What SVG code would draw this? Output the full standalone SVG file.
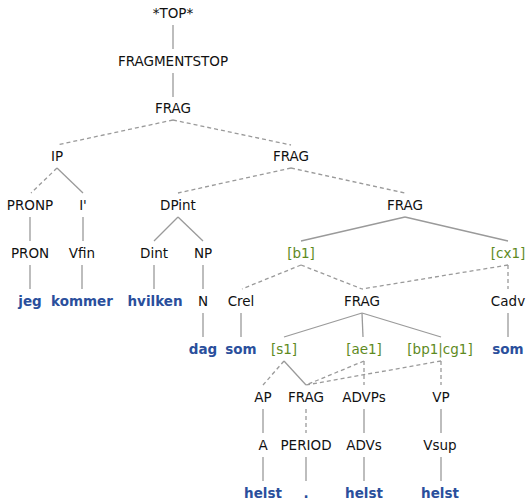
<svg xmlns="http://www.w3.org/2000/svg" width="526" height="502" viewBox="0 0 526 502">
<style>
text{font-family:"DejaVu Sans","Liberation Sans",sans-serif;font-size:13.5px;text-anchor:middle;fill:#111}
.w{font-weight:bold;fill:#2a4f9c}
.g{fill:#5e8a1e}
line{stroke:#9a9a9a;stroke-width:1.3}
.d{stroke-dasharray:4,3}
</style>
<rect width="526" height="502" fill="#fff"/>
<g id="connectors">
<line x1="173" y1="25" x2="173" y2="49"/>
<line x1="173" y1="73" x2="173" y2="97"/>
<line class="d" x1="173" y1="120" x2="57" y2="145"/>
<line class="d" x1="173" y1="120" x2="291" y2="145"/>
<line class="d" x1="57" y1="168" x2="31" y2="193"/>
<line x1="57" y1="168" x2="83" y2="193"/>
<line class="d" x1="291" y1="168" x2="178" y2="193"/>
<line class="d" x1="291" y1="168" x2="405" y2="193"/>
<line x1="30" y1="217" x2="30" y2="241"/>
<line x1="83" y1="217" x2="83" y2="241"/>
<line x1="178" y1="217" x2="154" y2="241"/>
<line x1="178" y1="217" x2="203" y2="241"/>
<line x1="405" y1="217" x2="301" y2="241"/>
<line x1="405" y1="217" x2="508" y2="241"/>
<line x1="30" y1="265" x2="30" y2="289"/>
<line x1="82" y1="265" x2="82" y2="289"/>
<line x1="154" y1="265" x2="154" y2="289"/>
<line x1="203" y1="265" x2="203" y2="289"/>
<line class="d" x1="301" y1="265" x2="242" y2="289"/>
<line class="d" x1="301" y1="265" x2="362" y2="289"/>
<line class="d" x1="508" y1="265" x2="362" y2="289"/>
<line class="d" x1="508" y1="265" x2="508" y2="289"/>
<line x1="203" y1="313" x2="203" y2="337"/>
<line x1="241" y1="313" x2="241" y2="337"/>
<line x1="362" y1="313" x2="284" y2="337"/>
<line x1="362" y1="313" x2="363" y2="337"/>
<line x1="362" y1="313" x2="441" y2="337"/>
<line x1="508" y1="313" x2="508" y2="337"/>
<line class="d" x1="284" y1="361" x2="263" y2="385"/>
<line x1="284" y1="361" x2="306" y2="385"/>
<line class="d" x1="364" y1="361" x2="306" y2="385"/>
<line class="d" x1="364" y1="361" x2="364" y2="385"/>
<line class="d" x1="441" y1="361" x2="306" y2="385"/>
<line class="d" x1="441" y1="361" x2="441" y2="385"/>
<line x1="263" y1="409" x2="263" y2="433"/>
<line class="d" x1="306" y1="409" x2="306" y2="433"/>
<line x1="364" y1="409" x2="364" y2="433"/>
<line x1="441" y1="409" x2="441" y2="433"/>
<line x1="263" y1="457" x2="263" y2="481"/>
<line x1="306" y1="457" x2="306" y2="481"/>
<line x1="364" y1="457" x2="364" y2="481"/>
<line x1="441" y1="457" x2="441" y2="481"/>
</g>
<g id="n-top"><text x="173" y="18">*TOP*</text></g>
<g id="n-fragmentstop"><text x="173" y="66">FRAGMENTSTOP</text></g>
<g id="n-frag1"><text x="173" y="113">FRAG</text></g>
<g id="n-ip"><text x="57" y="161">IP</text></g>
<g id="n-frag2"><text x="291" y="161">FRAG</text></g>
<g id="n-pronp"><text x="30" y="210">PRONP</text></g>
<g id="n-ibar"><text x="83" y="210">I'</text></g>
<g id="n-dpint"><text x="178" y="210">DPint</text></g>
<g id="n-frag3"><text x="405" y="210">FRAG</text></g>
<g id="n-pron"><text x="30" y="258">PRON</text></g>
<g id="n-vfin"><text x="82" y="258">Vfin</text></g>
<g id="n-dint"><text x="154" y="258">Dint</text></g>
<g id="n-np"><text x="203" y="258">NP</text></g>
<g id="n-b1"><text class="g" x="301" y="258">[b1]</text></g>
<g id="n-cx1"><text class="g" x="508" y="258">[cx1]</text></g>
<g id="n-jeg"><text class="w" x="30" y="306">jeg</text></g>
<g id="n-kommer"><text class="w" x="82" y="306">kommer</text></g>
<g id="n-hvilken"><text class="w" x="155" y="306">hvilken</text></g>
<g id="n-n"><text x="203" y="306">N</text></g>
<g id="n-crel"><text x="241" y="306">Crel</text></g>
<g id="n-frag4"><text x="362" y="306">FRAG</text></g>
<g id="n-cadv"><text x="508" y="306">Cadv</text></g>
<g id="n-dag"><text class="w" x="203" y="354">dag</text></g>
<g id="n-som1"><text class="w" x="241" y="354">som</text></g>
<g id="n-s1"><text class="g" x="284" y="354">[s1]</text></g>
<g id="n-ae1"><text class="g" x="364" y="354">[ae1]</text></g>
<g id="n-bp1cg1"><text class="g" x="440" y="354">[bp1|cg1]</text></g>
<g id="n-som2"><text class="w" x="508" y="354">som</text></g>
<g id="n-ap"><text x="263" y="402">AP</text></g>
<g id="n-frag5"><text x="306" y="402">FRAG</text></g>
<g id="n-advps"><text x="364" y="402">ADVPs</text></g>
<g id="n-vp"><text x="441" y="402">VP</text></g>
<g id="n-a"><text x="263" y="450">A</text></g>
<g id="n-period"><text x="306" y="450">PERIOD</text></g>
<g id="n-advs"><text x="364" y="450">ADVs</text></g>
<g id="n-vsup"><text x="440" y="450">Vsup</text></g>
<g id="n-helst1"><text class="w" x="263" y="498">helst</text></g>
<g id="n-dot"><text class="w" x="306" y="498">.</text></g>
<g id="n-helst2"><text class="w" x="364" y="498">helst</text></g>
<g id="n-helst3"><text class="w" x="440" y="498">helst</text></g>
</svg>
